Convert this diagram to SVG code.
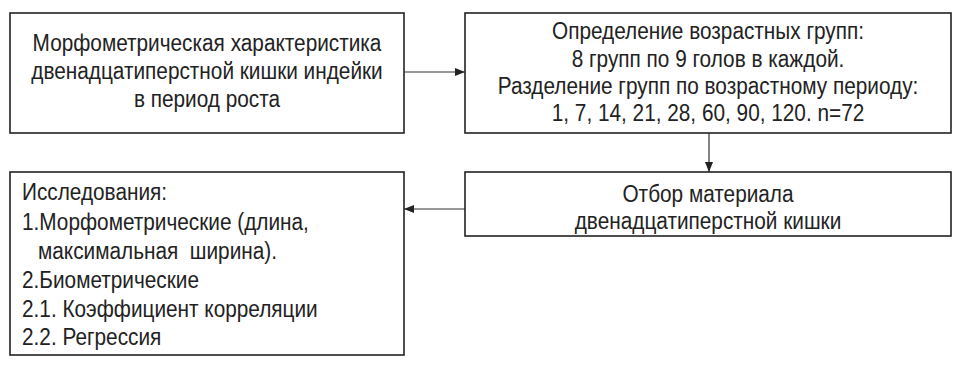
<svg xmlns="http://www.w3.org/2000/svg" width="969" height="366" viewBox="0 0 969 366">
<style>
.box{fill:#fff;stroke:#222;stroke-width:1.6}
.t{font-family:"Liberation Sans",Arial,sans-serif;font-size:23.5px;fill:#222}
.c{text-anchor:middle}
.ln{stroke:#333;stroke-width:1.2;fill:none}
</style>
<defs>
<marker id="ah" viewBox="0 0 10 10" refX="10" refY="5" markerWidth="10" markerHeight="10" markerUnits="userSpaceOnUse" orient="auto">
<path d="M0,1 L10,5 L0,9 Z" fill="#222"/>
</marker>
</defs>
<rect width="969" height="366" fill="#fff"/>
<g id="connectors">
<line class="ln" x1="404" y1="72" x2="465" y2="72" marker-end="url(#ah)"/>
<line class="ln" x1="709" y1="133" x2="709" y2="172" marker-end="url(#ah)"/>
<line class="ln" x1="465" y1="209" x2="404" y2="209" marker-end="url(#ah)"/>
</g>
<g id="node1">
<rect class="box" x="10" y="13" width="394" height="120"/>
<text class="t c" transform="translate(207,51) scale(0.885,1)">Морфометрическая характеристика</text>
<text class="t c" transform="translate(207,79) scale(0.885,1)">двенадцатиперстной кишки индейки</text>
<text class="t c" transform="translate(207,107) scale(0.885,1)">в период роста</text>
</g>
<g id="node2">
<rect class="box" x="465" y="13" width="486" height="120"/>
<text class="t c" transform="translate(708,39) scale(0.885,1)">Определение возрастных групп:</text>
<text class="t c" transform="translate(708,67) scale(0.885,1)">8 групп по 9 голов в каждой.</text>
<text class="t c" transform="translate(708,94) scale(0.885,1)">Разделение групп по возрастному периоду:</text>
<text class="t c" transform="translate(708,121) scale(0.885,1)">1, 7, 14, 21, 28, 60, 90, 120. n=72</text>
</g>
<g id="node3">
<rect class="box" x="465" y="172" width="486" height="64"/>
<text class="t c" transform="translate(708,202) scale(0.885,1)">Отбор материала</text>
<text class="t c" transform="translate(708,229) scale(0.885,1)">двенадцатиперстной кишки</text>
</g>
<g id="node4">
<rect class="box" x="10" y="172" width="394" height="183"/>
<text class="t" transform="translate(22,200) scale(0.885,1)">Исследования:</text>
<text class="t" transform="translate(22,230) scale(0.885,1)">1.Морфометрические (длина,</text>
<text class="t" transform="translate(38,259) scale(0.885,1)" xml:space="preserve">максимальная  ширина).</text>
<text class="t" transform="translate(22,288) scale(0.885,1)">2.Биометрические</text>
<text class="t" transform="translate(22,317) scale(0.885,1)">2.1. Коэффициент корреляции</text>
<text class="t" transform="translate(22,345) scale(0.885,1)">2.2. Регрессия</text>
</g>
</svg>
